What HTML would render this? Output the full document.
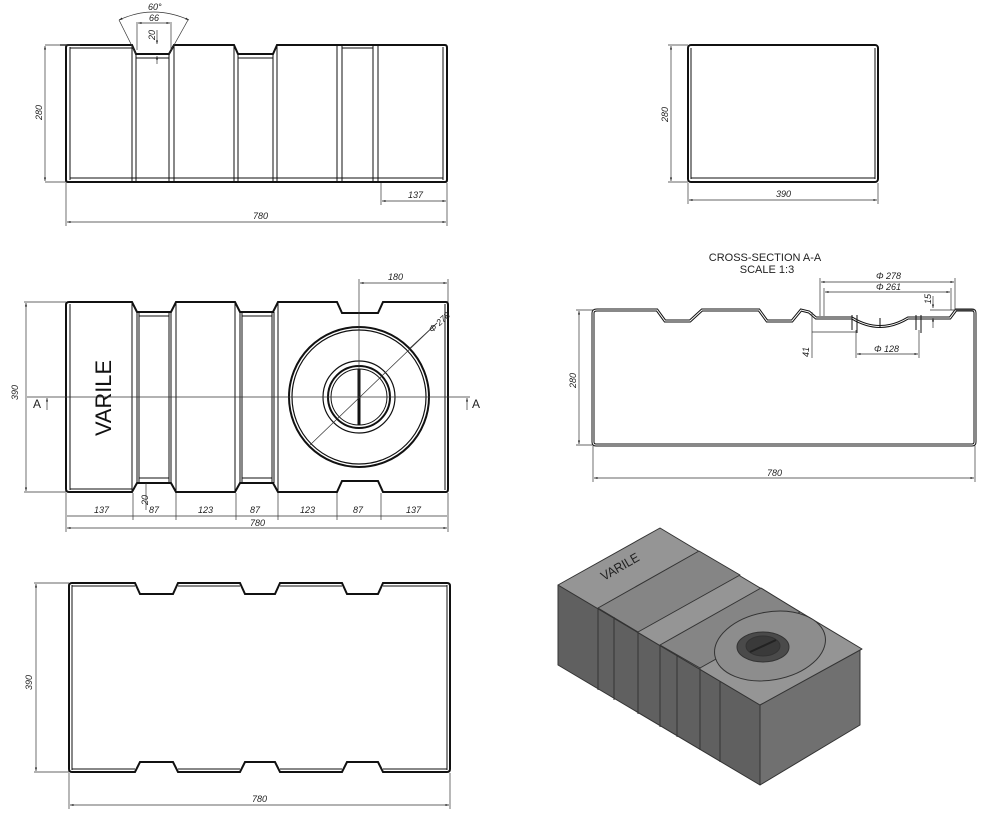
<!DOCTYPE html>
<html><head><meta charset="utf-8"><style>
html,body{margin:0;padding:0;background:#fff;}
svg{display:block;}
text{font-family:"Liberation Sans",sans-serif;font-size:9px;font-style:italic;fill:#222;}
.o{fill:none;stroke:#111;stroke-width:2;}
.i{fill:none;stroke:#111;stroke-width:1;}
.d{fill:none;stroke:#333;stroke-width:0.7;}
</style></head><body>
<svg width="983" height="815" viewBox="0 0 983 815" xmlns="http://www.w3.org/2000/svg">
<defs>
<marker id="a" viewBox="0 0 10 10" refX="10" refY="5" markerWidth="7" markerHeight="5" orient="auto-start-reverse"><path d="M0,2 L10,5 L0,8z" fill="#222"/></marker>
</defs>

<!-- TOP-LEFT FRONT VIEW -->
<path class="o" d="M68,45 H132 L136,54 H169 L174,45 H234 L238,54 H273 L277,45 H445 Q447,45 447,48 V180 Q447,182 445,182 H68 Q66,182 66,180 V48 Q66,45 68,45Z"/>
<g class="i">
<line x1="70" y1="47" x2="70" y2="180"/><line x1="443" y1="47" x2="443" y2="180"/>
<line x1="132" y1="45" x2="132" y2="182"/><line x1="136" y1="54" x2="136" y2="182"/>
<line x1="169" y1="54" x2="169" y2="182"/><line x1="174" y1="45" x2="174" y2="182"/>
<line x1="234" y1="45" x2="234" y2="182"/><line x1="238" y1="54" x2="238" y2="182"/>
<line x1="273" y1="54" x2="273" y2="182"/><line x1="277" y1="45" x2="277" y2="182"/>
<line x1="337" y1="45" x2="337" y2="182"/><line x1="342" y1="45" x2="342" y2="182"/>
<line x1="373" y1="45" x2="373" y2="182"/><line x1="378" y1="45" x2="378" y2="182"/>
<line x1="136" y1="58" x2="169" y2="58"/><line x1="238" y1="58" x2="273" y2="58"/>
<line x1="70" y1="48" x2="132" y2="48"/><line x1="70" y1="178" x2="443" y2="178"/>
<line x1="342" y1="48" x2="373" y2="48"/>
</g>
<g class="d">
<line x1="45" y1="45" x2="66" y2="45"/><line x1="45" y1="182" x2="66" y2="182"/>
<line x1="45" y1="46" x2="45" y2="181" marker-start="url(#a)" marker-end="url(#a)"/>
<line x1="66" y1="183" x2="66" y2="226"/><line x1="447" y1="183" x2="447" y2="226"/>
<line x1="67" y1="222" x2="446" y2="222" marker-start="url(#a)" marker-end="url(#a)"/>
<line x1="381" y1="183" x2="381" y2="205"/>
<line x1="382" y1="201" x2="446" y2="201" marker-start="url(#a)" marker-end="url(#a)"/>
<line x1="137" y1="22" x2="137" y2="50"/><line x1="171" y1="22" x2="171" y2="50"/>
<line x1="138" y1="23" x2="170" y2="23" marker-start="url(#a)" marker-end="url(#a)"/>
<line x1="157" y1="30" x2="157" y2="44" marker-end="url(#a)"/><line x1="157" y1="64" x2="157" y2="56" marker-end="url(#a)"/>
<line x1="136" y1="54" x2="119" y2="20"/><line x1="169" y1="54" x2="188" y2="20"/>
<path d="M119,20 Q153,4 189,20" marker-start="url(#a)" marker-end="url(#a)"/>
<line x1="60" y1="45" x2="80" y2="45" stroke-width="1.5"/>
</g>
<text x="148" y="10">60°</text>
<text x="149" y="21">66</text>
<text x="0" y="0" transform="translate(155,40) rotate(-90)">20</text>
<text x="0" y="0" transform="translate(42,120) rotate(-90)">280</text>
<text x="253" y="219">780</text>
<text x="408" y="198">137</text>

<!-- TOP-RIGHT SIDE VIEW -->
<rect class="o" x="688" y="45" width="190" height="137" rx="3"/>
<g class="i"><line x1="691" y1="48" x2="691" y2="179"/><line x1="875" y1="48" x2="875" y2="179"/><line x1="691" y1="178" x2="875" y2="178"/><line x1="760" y1="45" x2="800" y2="45" stroke-width="2"/></g>
<g class="d">
<line x1="668" y1="45" x2="688" y2="45"/><line x1="668" y1="182" x2="688" y2="182"/>
<line x1="671" y1="46" x2="671" y2="181" marker-start="url(#a)" marker-end="url(#a)"/>
<line x1="688" y1="183" x2="688" y2="204"/><line x1="878" y1="183" x2="878" y2="204"/>
<line x1="689" y1="200" x2="877" y2="200" marker-start="url(#a)" marker-end="url(#a)"/>
</g>
<text x="0" y="0" transform="translate(668,122) rotate(-90)">280</text>
<text x="776" y="197">390</text>

<!-- MIDDLE-LEFT TOP VIEW -->
<path class="o" d="M69,302 H132 L137,312 H171 L176,302 H235 L240,312 H273 L278,302 H337 L342,313 H378 L383,302 H446 Q448,302 448,305 V489 Q448,492 446,492 H383 L378,481 H342 L337,492 H278 L273,483 H240 L235,492 H176 L171,483 H137 L132,492 H69 Q66,492 66,489 V305 Q66,302 69,302Z"/>
<g class="i">
<line x1="70" y1="304" x2="70" y2="490"/><line x1="445" y1="304" x2="445" y2="490"/>
<line x1="132" y1="302" x2="132" y2="492"/><line x1="137" y1="312" x2="137" y2="483"/><line x1="139" y1="312" x2="139" y2="483"/>
<line x1="169" y1="312" x2="169" y2="483"/><line x1="171" y1="312" x2="171" y2="483"/><line x1="176" y1="302" x2="176" y2="492"/>
<line x1="235" y1="302" x2="235" y2="492"/><line x1="240" y1="312" x2="240" y2="483"/><line x1="242" y1="312" x2="242" y2="483"/>
<line x1="272" y1="312" x2="272" y2="483"/><line x1="274" y1="312" x2="274" y2="483"/><line x1="278" y1="302" x2="278" y2="492"/>
<line x1="139" y1="316" x2="169" y2="316"/><line x1="139" y1="478" x2="169" y2="478"/>
<line x1="242" y1="316" x2="272" y2="316"/><line x1="242" y1="478" x2="272" y2="478"/>
<line x1="70" y1="489" x2="132" y2="489"/>
</g>
<circle cx="359" cy="397" r="70" fill="none" stroke="#111" stroke-width="2"/>
<circle cx="359" cy="397" r="67" fill="none" stroke="#111" stroke-width="1.2"/>
<circle cx="359" cy="397" r="36" fill="none" stroke="#111" stroke-width="1.2"/>
<circle cx="359" cy="397" r="31" fill="none" stroke="#111" stroke-width="2"/>
<circle cx="359" cy="397" r="28" fill="none" stroke="#111" stroke-width="1"/>
<line x1="359" y1="369" x2="359" y2="425" stroke="#111" stroke-width="3"/>
<text x="0" y="0" transform="translate(111,436) rotate(-90)" textLength="76" lengthAdjust="spacingAndGlyphs" style="font-style:normal;font-size:22px;fill:#111">VARILE</text>
<g class="d">
<line x1="27" y1="397" x2="470" y2="397"/>
<line x1="359" y1="279" x2="359" y2="397"/><line x1="448" y1="279" x2="448" y2="302"/>
<line x1="360" y1="283" x2="447" y2="283" marker-start="url(#a)" marker-end="url(#a)"/>
<line x1="310" y1="445" x2="437" y2="323"/><line x1="410" y1="348" x2="437" y2="323"/>
<line x1="24" y1="302" x2="66" y2="302"/><line x1="24" y1="492" x2="66" y2="492"/>
<line x1="26" y1="303" x2="26" y2="491" marker-start="url(#a)" marker-end="url(#a)"/>
<line x1="47" y1="410" x2="47" y2="398" marker-end="url(#a)"/><line x1="467" y1="410" x2="467" y2="398" marker-end="url(#a)"/>
<line x1="146" y1="483" x2="146" y2="510"/>
<line x1="66" y1="493" x2="66" y2="532"/><line x1="448" y1="493" x2="448" y2="532"/>
<line x1="133" y1="493" x2="133" y2="520"/><line x1="176" y1="493" x2="176" y2="520"/><line x1="236" y1="493" x2="236" y2="520"/><line x1="278" y1="493" x2="278" y2="520"/><line x1="337" y1="493" x2="337" y2="520"/><line x1="381" y1="493" x2="381" y2="520"/>
<line x1="67" y1="516" x2="447" y2="516"/>
<line x1="67" y1="528" x2="447" y2="528" marker-start="url(#a)" marker-end="url(#a)"/>
</g>
<text x="0" y="0" transform="translate(432,333) rotate(-42)">Φ 278</text>
<text x="388" y="280">180</text>
<text x="0" y="0" transform="translate(18,400) rotate(-90)">390</text>
<text x="33" y="408" style="font-style:normal;font-size:12px">A</text>
<text x="472" y="408" style="font-style:normal;font-size:12px">A</text>
<text x="0" y="0" transform="translate(148,505) rotate(-90)">20</text>
<text x="94" y="513">137</text><text x="149" y="513">87</text><text x="198" y="513">123</text><text x="250" y="513">87</text><text x="300" y="513">123</text><text x="353" y="513">87</text><text x="406" y="513">137</text>
<text x="250" y="526">780</text>

<!-- CROSS SECTION -->
<text x="765" y="261" text-anchor="middle" style="font-style:normal;font-size:11px">CROSS-SECTION A-A</text>
<text x="767" y="273" text-anchor="middle" style="font-style:normal;font-size:11px">SCALE 1:3</text>
<path fill="none" stroke="#111" stroke-width="3" d="M597,310 H657 L665,321 H690 L702,310 H759 L767,321 H792 L801,310 L809,312 L816,318 H852 Q880,335 908,318 H950 L956,310 H972 Q975,310 975,313 V442 Q975,445 972,445 H596 Q593,445 593,442 V313 Q593,310 597,310Z"/>
<path fill="none" stroke="#fff" stroke-width="1" d="M597,310 H657 L665,321 H690 L702,310 H759 L767,321 H792 L801,310 L809,312 L816,318 H852 Q880,335 908,318 H950 L956,310 H972 Q975,310 975,313 V442 Q975,445 972,445 H596 Q593,445 593,442 V313 Q593,310 597,310Z"/>
<g class="i"><path d="M852,315 V330 M857,315 V333 M916,315 V330 M921,315 V333 M880,318 V328"/></g>
<g class="d">
<line x1="576" y1="310" x2="593" y2="310"/><line x1="576" y1="445" x2="593" y2="445"/>
<line x1="579" y1="311" x2="579" y2="444" marker-start="url(#a)" marker-end="url(#a)"/>
<line x1="593" y1="446" x2="593" y2="482"/><line x1="975" y1="446" x2="975" y2="482"/>
<line x1="594" y1="478" x2="974" y2="478" marker-start="url(#a)" marker-end="url(#a)"/>
<line x1="820" y1="278" x2="820" y2="316"/><line x1="955" y1="278" x2="955" y2="310"/>
<line x1="821" y1="282" x2="954" y2="282" marker-start="url(#a)" marker-end="url(#a)"/>
<line x1="824" y1="288" x2="824" y2="316"/><line x1="951" y1="288" x2="951" y2="310"/>
<line x1="825" y1="292" x2="950" y2="292" marker-start="url(#a)" marker-end="url(#a)"/>
<line x1="856" y1="330" x2="856" y2="358"/><line x1="919" y1="330" x2="919" y2="358"/>
<line x1="857" y1="354" x2="918" y2="354" marker-start="url(#a)" marker-end="url(#a)"/>
<line x1="812" y1="312" x2="812" y2="358"/><line x1="812" y1="332" x2="856" y2="332"/>
<line x1="933" y1="296" x2="933" y2="308" marker-end="url(#a)"/><line x1="933" y1="328" x2="933" y2="318" marker-end="url(#a)"/>
<line x1="930" y1="310" x2="975" y2="310"/>
</g>
<text x="876" y="279">Φ 278</text>
<text x="876" y="290">Φ 261</text>
<text x="874" y="352">Φ 128</text>
<text x="0" y="0" transform="translate(809,357) rotate(-90)">41</text>
<text x="0" y="0" transform="translate(931,304) rotate(-90)">15</text>
<text x="0" y="0" transform="translate(576,388) rotate(-90)">280</text>
<text x="767" y="476">780</text>

<!-- BOTTOM VIEW -->
<path class="o" d="M72,583 H135 L140,594 H173 L178,583 H240 L245,594 H275 L280,583 H342 L347,594 H378 L383,583 H447 Q450,583 450,586 V769 Q450,772 447,772 H383 L378,762 H347 L342,772 H280 L275,762 H245 L240,772 H178 L173,762 H140 L135,772 H72 Q69,772 69,769 V586 Q69,583 72,583Z"/>
<g class="i"><line x1="72" y1="585" x2="72" y2="770"/><line x1="447" y1="585" x2="447" y2="770"/><line x1="72" y1="586" x2="135" y2="586"/><line x1="178" y1="586" x2="240" y2="586"/><line x1="280" y1="586" x2="342" y2="586"/><line x1="383" y1="586" x2="447" y2="586"/><line x1="72" y1="769" x2="135" y2="769"/><line x1="178" y1="769" x2="240" y2="769"/><line x1="280" y1="769" x2="342" y2="769"/><line x1="383" y1="769" x2="447" y2="769"/></g>
<g class="d">
<line x1="34" y1="583" x2="69" y2="583"/><line x1="34" y1="772" x2="69" y2="772"/>
<line x1="36" y1="584" x2="36" y2="771" marker-start="url(#a)" marker-end="url(#a)"/>
<line x1="69" y1="773" x2="69" y2="809"/><line x1="450" y1="773" x2="450" y2="809"/>
<line x1="70" y1="805" x2="449" y2="805" marker-start="url(#a)" marker-end="url(#a)"/>
</g>
<text x="0" y="0" transform="translate(32,690) rotate(-90)">390</text>
<text x="252" y="802">780</text>

<!-- ISO VIEW -->
<g stroke="#333" stroke-width="1" stroke-linejoin="round">
<polygon points="558,585 760,705 760,785 558,665" fill="#606060"/>
<polygon points="760,705 860,648 860,725 760,785" fill="#707070"/>
<polygon points="558,585 660,528 862,649 760,705" fill="#959595"/>
<polygon points="598,608 699,551 740,575 638,632" fill="#858585"/>
<polygon points="660,645 761,588 800,612 700,668" fill="#858585"/>
<line x1="598" y1="608" x2="598" y2="690"/><line x1="614" y1="617" x2="614" y2="700"/>
<line x1="638" y1="632" x2="638" y2="714"/><line x1="660" y1="645" x2="660" y2="727"/>
<line x1="677" y1="655" x2="677" y2="737"/><line x1="700" y1="668" x2="700" y2="750"/>
<line x1="720" y1="681" x2="720" y2="762"/>
<ellipse cx="770" cy="646" rx="56" ry="34" transform="rotate(-10 770 646)" fill="#8d8d8d"/>
<ellipse cx="763" cy="647" rx="26" ry="15" fill="#4a4a4a"/>
<ellipse cx="763" cy="646" rx="17" ry="10" fill="#3a3a3a"/>
<line x1="750" y1="652" x2="776" y2="640" stroke="#222" stroke-width="2"/>
</g>
<text x="0" y="0" transform="translate(604,581) rotate(-30)" textLength="42" lengthAdjust="spacingAndGlyphs" style="font-style:normal;font-size:13px;fill:#222">VARILE</text>
</svg>
</body></html>
